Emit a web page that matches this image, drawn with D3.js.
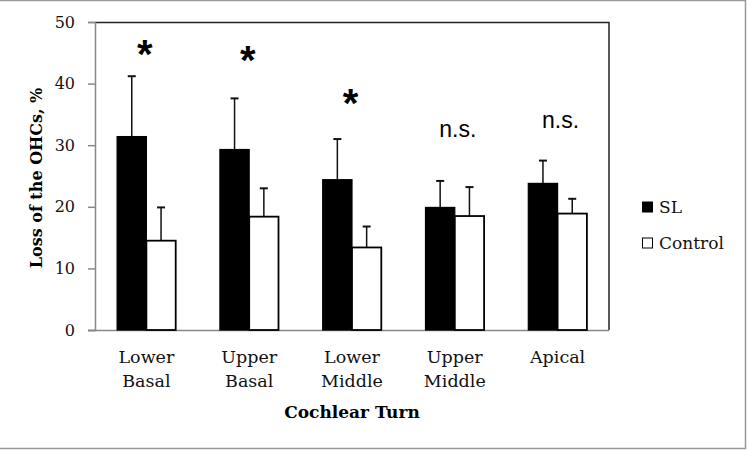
<!DOCTYPE html>
<html><head><meta charset="utf-8">
<script src="https://cdn.jsdelivr.net/npm/d3@7"></script>
<style>body{margin:0;background:#fff}</style>
</head><body>
<svg id="c" width="747" height="450"></svg>
<script>
const categories = [["Lower","Basal"],["Upper","Basal"],["Lower","Middle"],["Upper","Middle"],["Apical"]];
const seriesNames = ["SL","Control"];
const slMean = [31.4, 29.3, 24.4, 19.9, 23.8];
const slErr  = [41.2, 37.6, 31.0, 24.2, 27.5];
const ctMean = [14.5, 18.4, 13.4, 18.5, 18.9];
const ctErr  = [19.9, 23.0, 16.8, 23.2, 21.3];
const marks  = ["*","*","*","n.s.","n.s."];
const markLevel = [42.6, 41.6, 34.6, 31.3, 32.8];
const yTicks = [0,10,20,30,40,50];

const svg = d3.select("#c");
const L = 95, R = 609, T = 22, B = 330;
// outer frame
svg.append("path").attr("d","M0,0.5H745.5V448.5H0").attr("fill","none").attr("stroke","#999").attr("stroke-width",1.5);

const x = d3.scaleBand().domain(d3.range(categories.length)).range([L, R]).paddingInner(0.43).paddingOuter(0.215);
const y = d3.scaleLinear().domain([0,50]).range([B, T]);
const bw = x.bandwidth()/2;

// plot border top/right
svg.append("path").attr("d",`M${L},${T+0.5}H${R}V${B}`).attr("fill","none").attr("stroke","#222").attr("stroke-width",1.5);

// y axis
const ya = svg.append("g").attr("transform",`translate(${L},0)`)
  .call(d3.axisLeft(y).tickValues(yTicks).tickSize(7).tickPadding(13));
ya.select(".domain").attr("stroke","#888").attr("stroke-width",1.5);
ya.selectAll(".tick line").attr("stroke","#888").attr("stroke-width",1.5);
ya.selectAll(".tick text").attr("font-family","DejaVu Serif").attr("font-size",16).attr("fill","#111");

// x axis line
svg.append("line").attr("x1",L-7).attr("x2",R).attr("y1",B+0.5).attr("y2",B+0.5).attr("stroke","#888").attr("stroke-width",1.5);

const data = categories.map((c,i)=>({i, sl:slMean[i], se:slErr[i], ct:ctMean[i], ce:ctErr[i]}));

const g = svg.append("g");
function err(xc, m, e){
  g.append("line").attr("x1",xc).attr("x2",xc).attr("y1",y(m)).attr("y2",y(e)).attr("stroke","#111").attr("stroke-width",1.5);
  g.append("line").attr("x1",xc-4).attr("x2",xc+4).attr("y1",y(e)).attr("y2",y(e)).attr("stroke","#111").attr("stroke-width",2);
}
data.forEach(d=>{
  err(x(d.i)+bw/2, d.sl, d.se);
  err(x(d.i)+bw*1.5, d.ct, d.ce);
});
g.selectAll("rect.sl").data(data).join("rect").attr("class","sl")
  .attr("x",d=>x(d.i)).attr("y",d=>y(d.sl)).attr("width",bw).attr("height",d=>y(0)-y(d.sl))
  .attr("fill","#000").attr("stroke","#000").attr("stroke-width",1.2);
g.selectAll("rect.ct").data(data).join("rect").attr("class","ct")
  .attr("x",d=>x(d.i)+bw).attr("y",d=>y(d.ct)).attr("width",bw).attr("height",d=>y(0)-y(d.ct))
  .attr("fill","#fff").attr("stroke","#000").attr("stroke-width",1.8);

// significance marks
marks.forEach((m,i)=>{
  const t = svg.append("text").attr("y",y(markLevel[i]))
    .attr("text-anchor","middle").attr("font-family","Liberation Sans").attr("fill","#000").text(m);
  if(m==="*") t.attr("x",x(i)+x.bandwidth()/2-1.5).attr("font-size",40).attr("font-weight","bold");
  else t.attr("x",x(i)+x.bandwidth()/2+3).attr("font-size",23);
});

// category labels
categories.forEach((c,i)=>{
  const t = svg.append("text").attr("y",363)
    .attr("text-anchor","middle").attr("font-family","DejaVu Serif").attr("font-size",17.5).attr("fill","#111");
  c.forEach((s,k)=>t.append("tspan").attr("x",x(i)+x.bandwidth()/2).attr("dy",k?24:0).text(s));
});

// axis titles
svg.append("text").attr("x",352).attr("y",418).attr("text-anchor","middle")
  .attr("font-family","DejaVu Serif").attr("font-weight","bold").attr("font-size",17).text("Cochlear Turn");
svg.append("text").attr("transform","translate(42,178) rotate(-90)").attr("text-anchor","middle")
  .attr("font-family","DejaVu Serif").attr("font-weight","bold").attr("font-size",16).text("Loss of the OHCs, %");

// legend
const lg = svg.append("g").attr("transform","translate(642,202)");
seriesNames.forEach((s,k)=>{
  lg.append("rect").attr("x",0.5).attr("y",k*36).attr("width",10).attr("height",10)
    .attr("fill",k?"#fff":"#000").attr("stroke","#000").attr("stroke-width",1);
  lg.append("text").attr("x",17).attr("y",k*36+11).attr("font-family","DejaVu Serif").attr("font-size",17).attr("fill","#111").text(s);
});
</script>
</body></html>
